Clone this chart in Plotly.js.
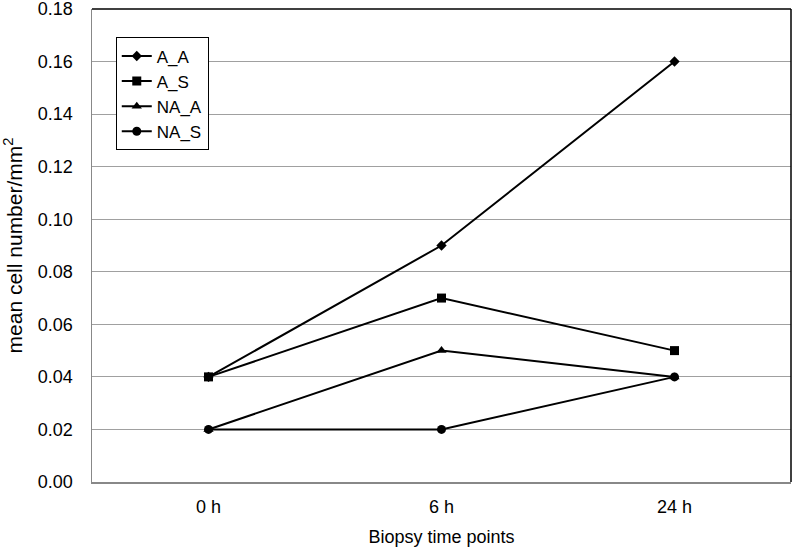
<!DOCTYPE html>
<html>
<head>
<meta charset="utf-8">
<script src="https://cdn.plot.ly/plotly-3.0.1.min.js"></script>
<style>html,body{margin:0;padding:0;background:#fff;}#chart{width:793px;height:549px;}</style>
</head>
<body>
<div id="chart"></div>
<script>
const categories = ["0 h", "6 h", "24 h"];
const seriesNames = ["A_A", "A_S", "NA_A", "NA_S"];
const A_A = [0.04, 0.09, 0.16];
const A_S = [0.04, 0.07, 0.05];
const NA_A = [0.02, 0.05, 0.04];
const NA_S = [0.02, 0.02, 0.04];
const yTickVals = [0, 0.02, 0.04, 0.06, 0.08, 0.10, 0.12, 0.14, 0.16, 0.18];
const yTickText = ["0.00", "0.02", "0.04", "0.06", "0.08", "0.10", "0.12", "0.14", "0.16", "0.18"];

const values = [A_A, A_S, NA_A, NA_S];
const symbols = ["diamond", "square", "triangle-up", "circle"];
const sizes = [8, 9, 9, 9];

const traces = values.map((v, i) => ({
  x: categories,
  y: v,
  name: seriesNames[i],
  type: "scatter",
  mode: "lines+markers",
  line: {color: "#000", width: 2},
  marker: {symbol: symbols[i], size: sizes[i], color: "#000"}
}));

const fam = "Liberation Sans, Arial, sans-serif";
const tickFont = {family: fam, color: "#000", size: 18};
const xTitleFont = {family: fam, color: "#000", size: 18};
const yTitleFont = {family: fam, color: "#000", size: 21};

const layout = {
  width: 793, height: 549,
  margin: {l: 92, r: 2, t: 9, b: 67},
  paper_bgcolor: "#fff", plot_bgcolor: "#fff",
  font: tickFont,
  showlegend: true,
  legend: {
    x: 0.034, y: 0.94, xanchor: "left", yanchor: "top",
    bordercolor: "#000", borderwidth: 1, bgcolor: "#fff",
    font: {family: fam, size: 17, color: "#000"},
    tracegroupgap: 0
  },
  xaxis: {
    type: "category",
    range: [-0.5, 2.5],
    showgrid: false,
    showline: true, linecolor: "#888", linewidth: 1.5,
    ticks: "", ticklen: 0,
    ticklabelstandoff: 8,
    ticklabeloverflow: "allow",
    tickfont: tickFont,
    title: {text: "Biopsy time points", font: xTitleFont, standoff: 14},
    fixedrange: true
  },
  yaxis: {
    range: [0, 0.18],
    tickvals: yTickVals, ticktext: yTickText,
    showgrid: true, gridcolor: "#a0a0a0", gridwidth: 1,
    showline: true, linecolor: "#888", linewidth: 1.5,
    zeroline: false,
    ticks: "", ticklen: 0,
    ticklabelstandoff: 14,
    ticklabeloverflow: "allow",
    tickfont: tickFont,
    title: {text: "mean cell number/mm<sup>2</sup>", font: yTitleFont, standoff: 9},
    fixedrange: true
  },
  shapes: [
    {type: "line", xref: "paper", yref: "paper", x0: 0, x1: 1, y0: 1, y1: 1, line: {color: "#000", width: 1.5}},
    {type: "line", xref: "paper", yref: "paper", x0: 1, x1: 1, y0: 0, y1: 1, line: {color: "#000", width: 1.5}}
  ]
};

Plotly.newPlot("chart", traces, layout, {displayModeBar: false, staticPlot: true});
</script>
</body>
</html>
